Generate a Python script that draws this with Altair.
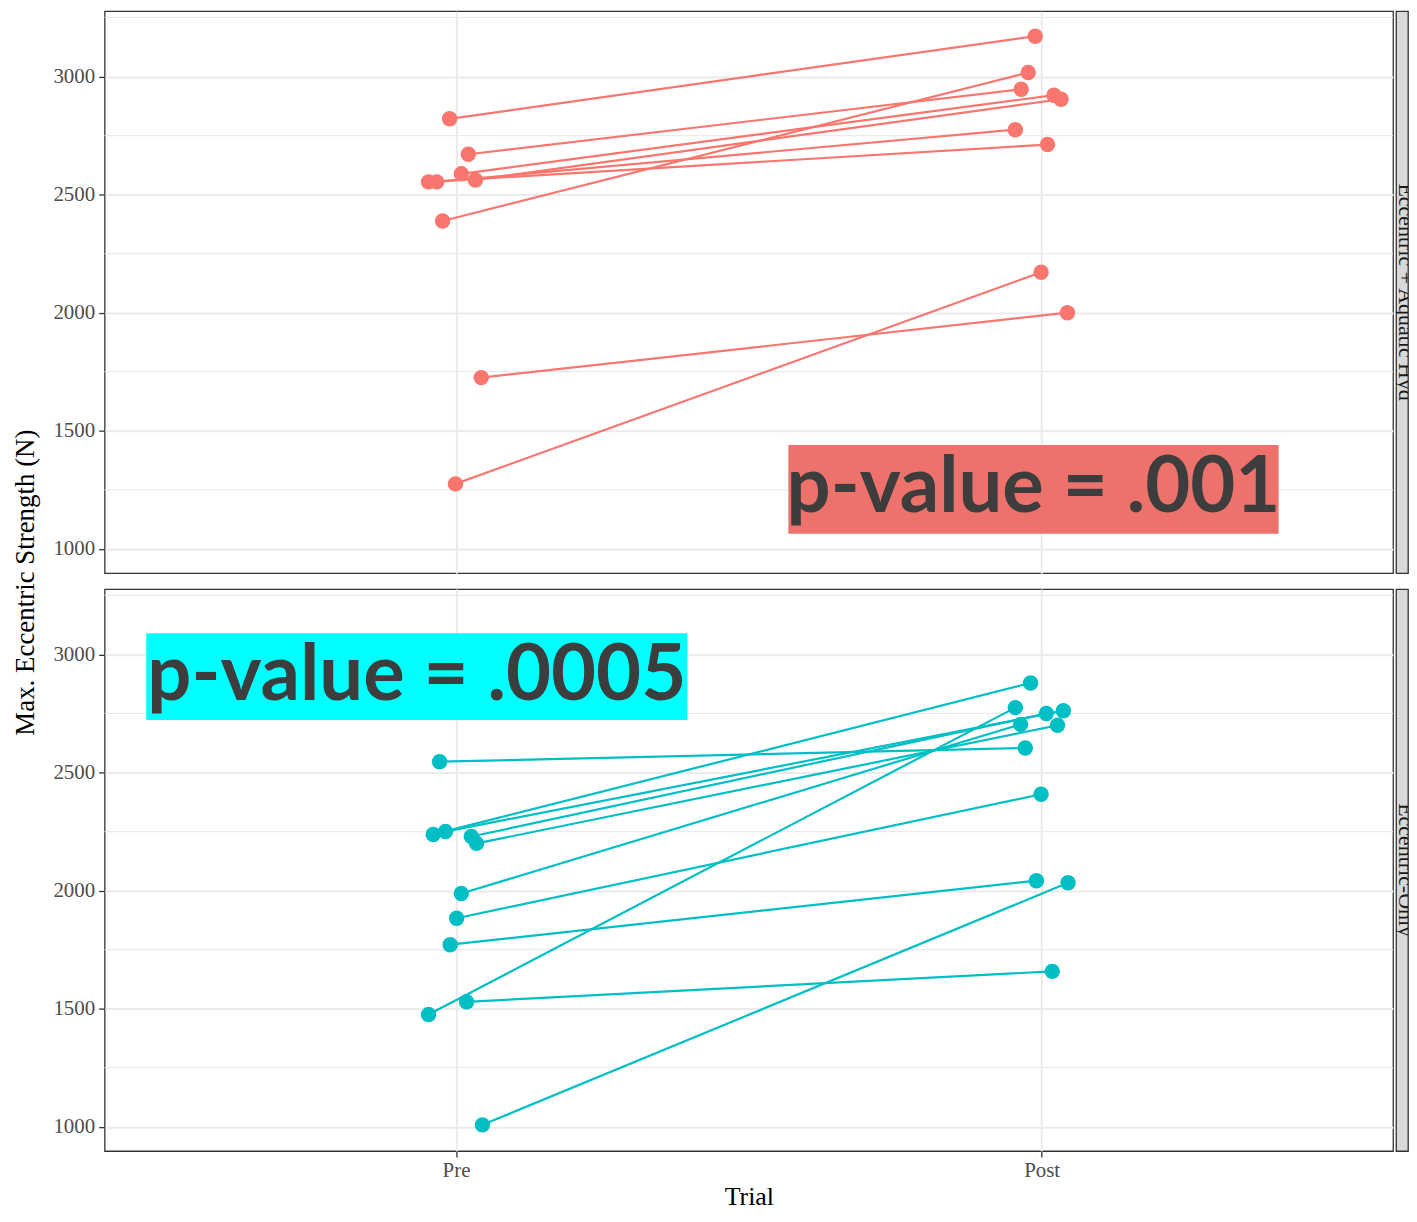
import altair as alt
import pandas as pd

# ---------------- data ----------------
groups = ["Eccentric + Aquatic Hyd", "Eccentric-Only"]
group_colors = ["#F8766D", "#00BFC4"]
trial_labels = ["Pre", "Post"]

# Eccentric + Aquatic group (paired pre/post values, jittered trial positions)
aq_pre = [2821, 2671, 2588, 2562, 2554, 2554, 2388, 1725, 1275]
aq_post = [3171, 2946, 2921, 2904, 2775, 2712, 3017, 2000, 2171]
aq_pre_x = [0.989, 1.021, 1.009, 1.033, 0.967, 0.953, 0.977, 1.043, 0.999]
aq_post_x = [1.989, 1.965, 2.021, 2.033, 1.955, 2.010, 1.977, 2.044, 1.999]

# Eccentric-Only group
eo_pre = [2546, 2238, 2250, 2229, 2200, 1988, 1883, 1771, 1475, 1529, 1008]
eo_post = [2604, 2879, 2762, 2750, 2700, 2704, 2408, 2042, 2775, 1658, 2033]
eo_pre_x = [0.972, 0.961, 0.982, 1.026, 1.035, 1.009, 1.001, 0.990, 0.953, 1.018, 1.045]
eo_post_x = [1.972, 1.981, 2.037, 2.008, 2.027, 1.964, 1.999, 1.991, 1.955, 2.018, 2.045]

major_ticks = [1000, 1500, 2000, 2500, 3000]
minor_ticks = [1250, 1750, 2250, 2750, 3250]

p_labels = ["p-value = .001", "p-value = .0005"]
p_x = [1.986, 0.933]
p_y = [1252, 2906]
p_fill = ["#ED726C", "#00FFFF"]

rows = []
for g, pre, post, prx, pox in [
    (groups[0], aq_pre, aq_post, aq_pre_x, aq_post_x),
    (groups[1], eo_pre, eo_post, eo_pre_x, eo_post_x),
]:
    for i, (a, b, xa, xb) in enumerate(zip(pre, post, prx, pox)):
        sid = f"{g}-{i}"
        rows.append(dict(group=g, subject=sid, trial=trial_labels[0], x=xa, value=a))
        rows.append(dict(group=g, subject=sid, trial=trial_labels[1], x=xb, value=b))
df = pd.DataFrame(rows)

# ---------------- styling ----------------
W, H = 1293, 564
SERIF = "Liberation Serif"
xscale = alt.Scale(domain=[0.4, 2.6], nice=False, zero=False)
yscale = alt.Scale(domain=[897, 3277], nice=False, zero=False)
label_expr = f"datum.value == 1 ? '{trial_labels[0]}' : '{trial_labels[1]}'"

box_sizes = [(492, 89), (543, 87)]


def panel(k, show_x):
    d = df[df.group == groups[k]]
    color = group_colors[k]
    if show_x:
        xaxis = alt.Axis(values=[1, 2], labelExpr=label_expr, title="Trial",
                         grid=True, gridColor="#EBEBEB", gridWidth=2,
                         domain=False, ticks=True, tickColor="#333333", tickSize=6,
                         tickWidth=1.3, labelFont=SERIF, labelFontSize=21,
                         labelColor="#4D4D4D", labelPadding=3,
                         titleFont=SERIF, titleFontSize=26, titleFontWeight="normal",
                         titleColor="black", titlePadding=3)
    else:
        xaxis = alt.Axis(values=[1, 2], title=None, grid=True, gridColor="#EBEBEB",
                         gridWidth=2, domain=False, ticks=False, labels=False)
    yaxis = alt.Axis(values=major_ticks, format="d", title=None, grid=True,
                     gridColor="#EBEBEB", gridWidth=2, domain=False,
                     tickColor="#333333", tickSize=6, tickWidth=1.3,
                     labelFont=SERIF, labelFontSize=21, labelColor="#4D4D4D",
                     labelPadding=4)

    minor = alt.Chart(pd.DataFrame({"v": minor_ticks})).mark_rule(
        color="#EBEBEB", strokeWidth=1.2
    ).encode(y=alt.Y("v:Q", scale=yscale, axis=yaxis))

    base = alt.Chart(d).encode(
        x=alt.X("x:Q", scale=xscale, axis=xaxis),
        y=alt.Y("value:Q", scale=yscale, axis=yaxis),
    )
    lines = base.mark_line(color=color, strokeWidth=2.2).encode(
        detail="subject:N", order="x:Q")
    pts = base.mark_circle(color=color, size=240, opacity=1)

    bw, bh = box_sizes[k]
    h = bh / bw
    shape = f"M-1,{-h:.4f}H1V{h:.4f}H-1Z"
    lab = pd.DataFrame({"x": [p_x[k]], "y": [p_y[k]], "t": [p_labels[k]]})
    box = alt.Chart(lab).mark_point(shape=shape, filled=True, fill=p_fill[k],
                                    opacity=1, strokeWidth=0, size=bw * bw).encode(
        x=alt.X("x:Q", scale=xscale), y=alt.Y("y:Q", scale=yscale))
    txt = alt.Chart(lab).mark_text(font="Lato", fontWeight="bold", fontSize=78,
                                   color="#3D3D3D", align="center",
                                   baseline="middle").encode(
        x=alt.X("x:Q", scale=xscale), y=alt.Y("y:Q", scale=yscale), text="t:N")

    return alt.layer(minor, lines, pts, box, txt).properties(
        width=W, height=H,
        view=alt.ViewBackground(fill="white", stroke="#333333", strokeWidth=1.3))


def strip(k):
    return alt.Chart(pd.DataFrame({"label": [groups[k]]})).mark_text(
        angle=90, align="center", baseline="alphabetic", font=SERIF,
        fontSize=22, color="#1A1A1A", clip=True
    ).encode(text="label:N", x=alt.value(3), y=alt.value(H / 2)).properties(
        width=12, height=H,
        view=alt.ViewBackground(fill="#D9D9D9", stroke="#333333", strokeWidth=1.3))


top = alt.hconcat(panel(0, False), strip(0), spacing=0)
bottom = alt.hconcat(panel(1, True), strip(1), spacing=0)

chart = alt.vconcat(top, bottom, spacing=14).properties(
    title=alt.TitleParams(text="Max. Eccentric Strength (N)", orient="left",
                          anchor="middle", font=SERIF, fontSize=27,
                          fontWeight="normal", color="black", offset=12, dx=28),
    padding={"left": 4, "top": 0, "right": 0, "bottom": 0},
).configure(background="white")

chart.save("out.html", embed_options={"renderer": "svg", "actions": False})
